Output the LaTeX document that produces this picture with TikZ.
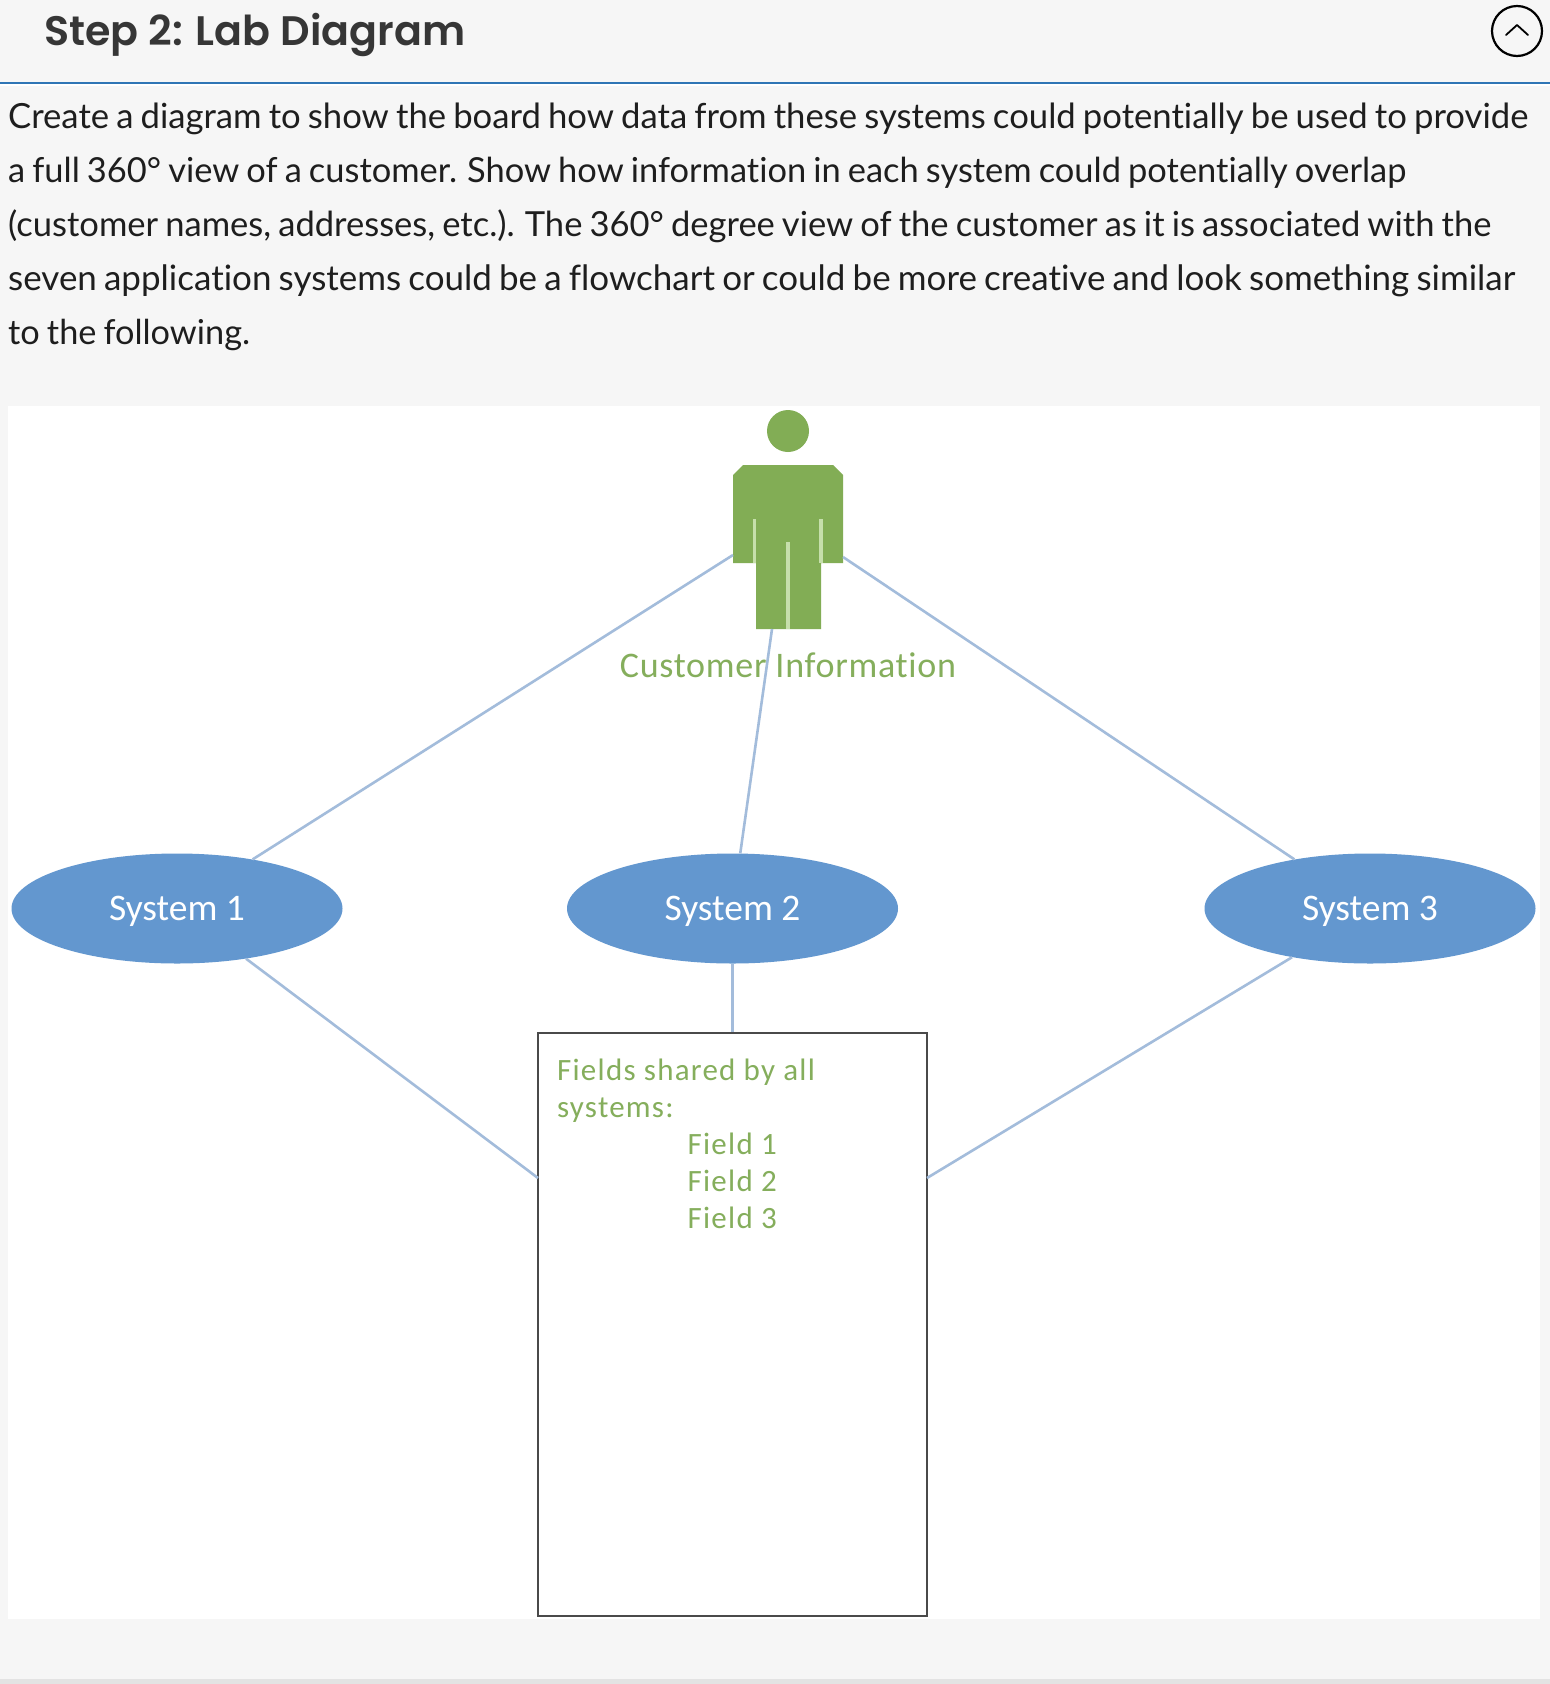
\documentclass[tikz,border=0pt]{standalone}
\usepackage{fontspec}
\usepackage{graphicx}
\usetikzlibrary{shapes.geometric}
\setmainfont[Ligatures=NoCommon,WordSpace=0.8]{Lato}
\newfontfamily\titlefont{Poppins SemiBold}
\newfontfamily\calfont{Carlito}
\newfontfamily\calfontsp[LetterSpace=2.0,Ligatures=NoCommon]{Carlito}
\newfontfamily\calfontfd[LetterSpace=4.0,Ligatures=NoCommon]{Carlito}
\definecolor{pagebg}{HTML}{F6F6F6}
\definecolor{rulebl}{HTML}{2F75B5}
\definecolor{ink}{HTML}{1E1E1E}
\definecolor{titleink}{HTML}{363636}
\definecolor{grn}{HTML}{82AD55}
\definecolor{grnlt}{HTML}{C6DFAB}
\definecolor{grntx}{HTML}{85AE5C}
\definecolor{blu}{HTML}{6397CF}
\definecolor{conn}{HTML}{A3BCDB}
\definecolor{boxline}{HTML}{4A4A4A}
\definecolor{footbar}{HTML}{E3E3E3}
\newcommand{\fitline}[2]{\resizebox{#1pt}{!}{#2}}
\newcommand{\systext}[1]{\raisebox{-11.5pt}[0pt][0pt]{#1}}
\tikzset{
  bodyline/.style={anchor=base west,inner sep=0pt,text=ink,font=\fontsize{35.5}{40}\selectfont},
  sysnode/.style={ellipse,fill=blu,minimum width=331pt,minimum height=110pt,inner sep=0pt,text=white,font=\calfont\fontsize{37.5}{40}\selectfont},
  connector/.style={draw=conn,line width=2.6pt},
  fieldtext/.style={anchor=base west,inner sep=0pt,text=grntx,font=\calfontfd\fontsize{31}{36}\selectfont},
  slit/.style={draw=grnlt,line width=3.2pt}
}
\begin{document}
\begin{tikzpicture}[x=1pt,y=-1pt]
\useasboundingbox (0,0) rectangle (1550,1684);
\fill[pagebg] (0,0) rectangle (1550,1684);
\fill[footbar] (0,1679) rectangle (1550,1684);
\fill[white] (8,406) rectangle (1540,1619);
\fill[white] (0,84) rectangle (1550,86);
\fill[rulebl] (0,82) rectangle (1550,84);
% header
\node[anchor=base west,inner sep=0pt,text=titleink,font=\titlefont\fontsize{41.2}{46}\selectfont] (title) at (44,45) {Step 2: Lab Diagram};
\node[circle,draw=black,line width=2.2pt,minimum size=50pt,inner sep=0pt] (toggle) at (1517,31) {};
\draw[black,line width=1.8pt,line cap=round,line join=round] ([shift={(-11,4)}]toggle.center) -- ([shift={(0,-6)}]toggle.center) -- ([shift={(11,4)}]toggle.center);
% body text
\node[bodyline] (l1) at (8,128) {\fitline{1520}{Create a diagram to show the board how data from these systems could potentially be used to provide}};
\node[bodyline] (l2) at (8,182) {\fitline{1398}{a full 360° view of a customer. Show how information in each system could potentially overlap}};
\node[bodyline] (l3) at (8,236) {\fitline{1483}{(customer names, addresses, etc.). The 360° degree view of the customer as it is associated with the}};
\node[bodyline] (l4) at (8,290) {\fitline{1507}{seven application systems could be a flowchart or could be more creative and look something similar}};
\node[bodyline] (l5) at (8,344) {\fitline{242}{to the following.}};
% person
\node[circle,fill=grn,minimum size=42pt,inner sep=0pt] (head) at (788,431) {};
\fill[grn] (743,465) -- (833,465) -- (843,475) -- (843,563) -- (821,563) -- (821,629) -- (756,629) -- (756,563) -- (733,563) -- (733,475) -- cycle;
\draw[slit] (754.5,519) -- (754.5,563);
\draw[slit] (821,519) -- (821,563);
\draw[slit] (788,542) -- (788,629);
\coordinate (armL) at (733,555);
\coordinate (armR) at (843,557);
\coordinate (foot) at (772,629);
% systems
\node[sysnode] (s1) at (177,908.5) {\systext{System 1}};
\node[sysnode] (s2) at (732.5,908.5) {\systext{System 2}};
\node[sysnode] (s3) at (1370,908.5) {\systext{System 3}};
% box
\node[draw=boxline,fill=white,line width=2.6pt,minimum width=389pt,minimum height=583pt,inner sep=0pt] (box) at (732.5,1324.5) {};
\coordinate (boxL) at (538,1178);
\coordinate (boxR) at (927,1178);
% connectors
\draw[connector] (armL) -- (s1.33);
\draw[connector] (armR) -- (s3.147);
\draw[connector] (foot) -- (s2.82);
\draw[connector] (s1.-36) -- (boxL);
\draw[connector] (s3.212) -- (boxR);
\draw[connector] (s2.south) -- (box.north);
% labels
\node[anchor=base,inner sep=0pt,text=grntx,font=\calfontsp\fontsize{36}{40}\selectfont] (cust) at (788,677) {Customer Information};
\node[fieldtext] (f0) at (557,1080) {Fields shared by all};
\node[fieldtext] (f1) at (557,1117) {systems:};
\node[fieldtext] (f2) at (687.5,1154) {Field 1};
\node[fieldtext] (f3) at (687.5,1191) {Field 2};
\node[fieldtext] (f4) at (687.5,1228) {Field 3};
\end{tikzpicture}
\end{document}
